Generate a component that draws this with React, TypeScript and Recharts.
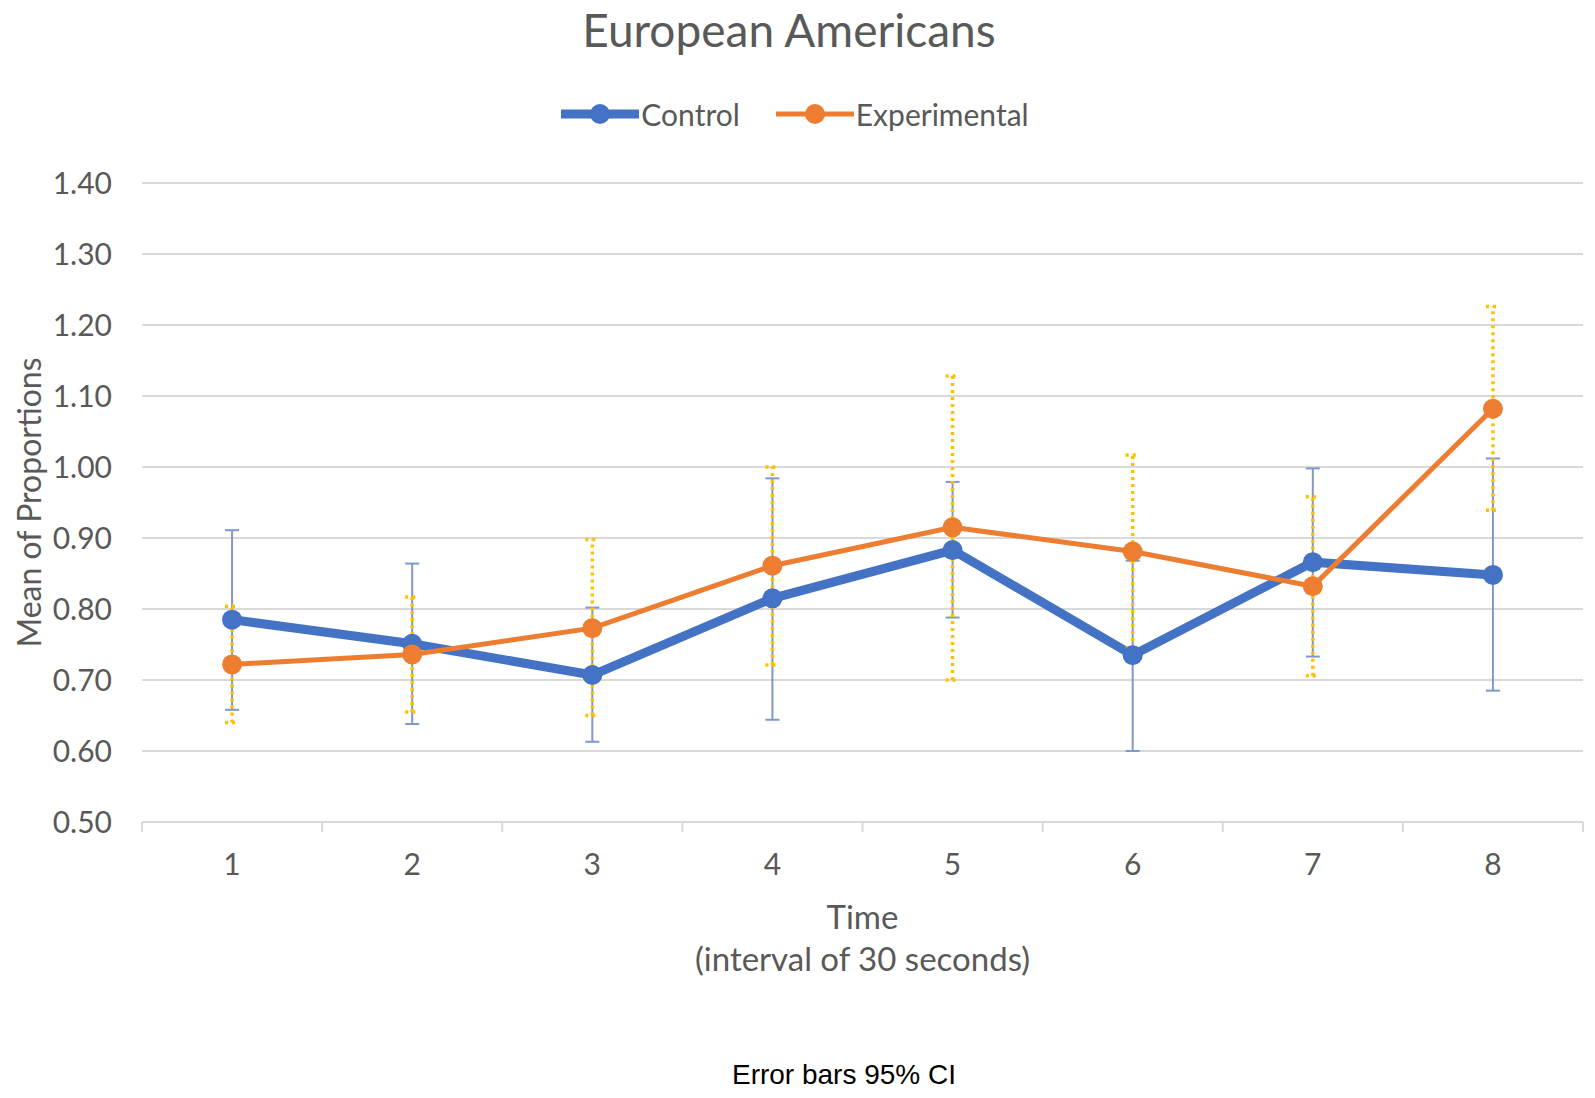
import { CartesianGrid, ErrorBar, Label, Legend, Line, LineChart, XAxis, YAxis } from "recharts";

// time points (30 s intervals)
const times = ["1", "2", "3", "4", "5", "6", "7", "8"];

// Control group: mean and 95% CI bounds
const controlMean = [0.785, 0.751, 0.707, 0.815, 0.883, 0.735, 0.866, 0.848];
const controlLow = [0.658, 0.638, 0.613, 0.644, 0.788, 0.6, 0.733, 0.685];
const controlHigh = [0.911, 0.864, 0.802, 0.984, 0.979, 0.868, 0.998, 1.012];

// Experimental group: mean and 95% CI bounds
const expMean = [0.722, 0.736, 0.773, 0.861, 0.915, 0.881, 0.832, 1.082];
const expLow = [0.64, 0.655, 0.65, 0.721, 0.7, 0.745, 0.706, 0.939];
const expHigh = [0.804, 0.817, 0.898, 1.0, 1.128, 1.017, 0.958, 1.226];

const yTicks = [0.5, 0.6, 0.7, 0.8, 0.9, 1.0, 1.1, 1.2, 1.3, 1.4];

const data = times.map((time, i) => ({
  time,
  control: controlMean[i],
  controlErr: [controlMean[i] - controlLow[i], controlHigh[i] - controlMean[i]],
  experimental: expMean[i],
  experimentalErr: [expMean[i] - expLow[i], expHigh[i] - expMean[i]],
}));

const W = 1579;
const H = 1082;
const M = { top: 175, right: 4, bottom: 208, left: 54 };
const Y_AXIS_W = 80;
const X_AXIS_H = 60;
const HALF_BAND = (W - M.left - Y_AXIS_W - M.right) / times.length / 2;

const FONT = "Lato, 'Open Sans', sans-serif";
const GREY = "#595959";
const GRID = "#d9d9d9";
const BLUE = "#4472C4";
const ORANGE = "#ED7D31";

function TimeTick({ x, y, payload }: any) {
  const axisY = y - 32;
  const last = payload.value === times[times.length - 1];
  return (
    <g>
      <line x1={x - HALF_BAND} x2={x - HALF_BAND} y1={axisY} y2={axisY + 10} stroke={GRID} strokeWidth={2} />
      {last && <line x1={x + HALF_BAND} x2={x + HALF_BAND} y1={axisY} y2={axisY + 10} stroke={GRID} strokeWidth={2} />}
      <text x={x} y={y} dy="0.71em" textAnchor="middle" fill={GREY} fontSize={30} fontFamily={FONT}>
        {payload.value}
      </text>
    </g>
  );
}

function SeriesLegend({ payload }: any) {
  return (
    <div style={{ display: "flex", justifyContent: "center", gap: 36, fontFamily: FONT, fontSize: 30, lineHeight: "36px", color: GREY }}>
      {(payload || []).map((p: any) => (
        <div key={p.value} style={{ display: "flex", alignItems: "center" }}>
          <svg width={78} height={24}>
            <line x1={0} x2={78} y1={12} y2={12} stroke={p.color} strokeWidth={p.dataKey === "control" ? 9 : 5} />
            <circle cx={39} cy={12} r={10} fill={p.color} />
          </svg>
          <span style={{ marginLeft: 2 }}>{p.value}</span>
        </div>
      ))}
    </div>
  );
}

export default function App() {
  return (
    <div style={{ position: "relative", width: W, height: H, background: "#fff" }}>
      <div
        style={{
          position: "absolute",
          top: -4,
          left: 0,
          width: 1562,
          textAlign: "center",
          fontFamily: FONT,
          fontSize: 46,
          lineHeight: "52px",
          color: GREY,
        }}
      >
        European Americans
      </div>
      <LineChart width={W} height={H} data={data} margin={M}>
        <CartesianGrid vertical={false} stroke={GRID} strokeWidth={2} />
        <XAxis
          dataKey="time"
          height={X_AXIS_H}
          padding={{ left: HALF_BAND, right: HALF_BAND }}
          stroke={GRID}
          strokeWidth={2}
          tickLine={false}
          tickSize={0}
          tickMargin={32}
          tick={<TimeTick />}
        >
          <Label
            content={({ viewBox }: any) => (
              <g fontFamily={FONT} fontSize={33} fill={GREY} textAnchor="middle">
                <text x={viewBox.x + viewBox.width / 2} y={viewBox.y + 94} dominantBaseline="central">
                  Time
                </text>
                <text x={viewBox.x + viewBox.width / 2} y={viewBox.y + 136} dominantBaseline="central">
                  (interval of 30 seconds)
                </text>
              </g>
            )}
          />
        </XAxis>
        <YAxis
          width={Y_AXIS_W}
          domain={[0.5, 1.4]}
          ticks={yTicks}
          axisLine={false}
          tickLine={false}
          tickSize={0}
          tickMargin={30}
          tick={{ fill: GREY, fontSize: 30, fontFamily: FONT }}
          tickFormatter={(v) => Number(v).toFixed(2)}
        >
          <Label
            content={({ viewBox }: any) => {
              const cy = viewBox.y + viewBox.height / 2;
              return (
                <text
                  x={20}
                  y={cy}
                  transform={`rotate(-90, 20, ${cy})`}
                  textAnchor="middle"
                  dominantBaseline="central"
                  fontFamily={FONT}
                  fontSize={32}
                  fill={GREY}
                >
                  Mean of Proportions
                </text>
              );
            }}
          />
        </YAxis>
        <Legend
          verticalAlign="middle"
          align="center"
          content={<SeriesLegend />}
          wrapperStyle={{ top: 88, left: 0, width: 1574 }}
        />
        <Line
          dataKey="control"
          name="Control"
          stroke={BLUE}
          strokeWidth={9}
          dot={{ r: 10, fill: BLUE, stroke: BLUE, strokeWidth: 0 }}
          isAnimationActive={false}
        >
          <ErrorBar dataKey="controlErr" width={7} stroke="#7f98cc" strokeWidth={2} />
        </Line>
        <Line
          dataKey="experimental"
          name="Experimental"
          stroke={ORANGE}
          strokeWidth={5}
          dot={{ r: 10, fill: ORANGE, stroke: ORANGE, strokeWidth: 0 }}
          isAnimationActive={false}
        >
          <ErrorBar dataKey="experimentalErr" width={7} stroke="#FFC000" strokeWidth={3.5} strokeDasharray="3 4" />
        </Line>
      </LineChart>
      <div
        style={{
          position: "absolute",
          top: 1050,
          left: 636,
          width: 400,
          textAlign: "center",
          fontFamily: "'Liberation Sans', Arial, sans-serif",
          fontSize: 28,
          lineHeight: "34px",
          color: "#000",
        }}
      >
        Error bars 95% CI
      </div>
    </div>
  );
}
